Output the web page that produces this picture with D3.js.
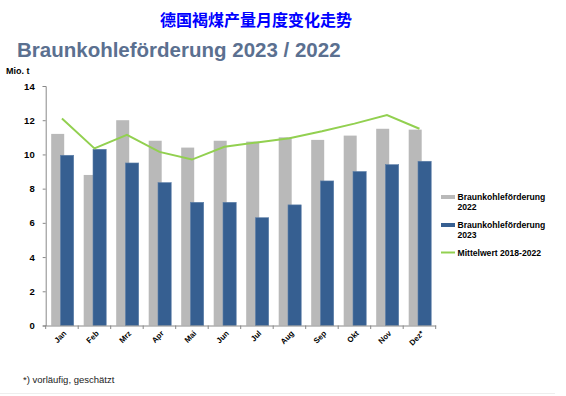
<!DOCTYPE html>
<html>
<head>
<meta charset="utf-8">
<script src="https://cdn.jsdelivr.net/npm/d3@7"></script>
<style>
  body { margin: 0; background: #fff; }
  svg { display: block; font-family: "Liberation Sans", Arial, sans-serif; }
</style>
</head>
<body>
<svg id="chart" width="566" height="396"></svg>
<script>
// data
const months = ['Jan', 'Feb', 'Mrz', 'Apr', 'Mai', 'Jun', 'Jul', 'Aug', 'Sep', 'Okt', 'Nov', 'Dez*']
const values2022 = [11.2, 8.8, 12.0, 10.8, 10.4, 10.8, 10.75, 11.0, 10.85, 11.1, 11.5, 11.45]
const values2023 = [9.95, 10.3, 9.5, 8.35, 7.2, 7.2, 6.3, 7.05, 8.45, 9.0, 9.4, 9.6]
const average = [12.1, 10.35, 11.15, 10.15, 9.7, 10.45, 10.7, 10.95, 11.35, 11.8, 12.3, 11.5]
const yTicks = [0, 2, 4, 6, 8, 10, 12, 14]

const svg = d3.select('#chart')

svg.append('text')
    .attr('x', 256).attr('y', 26)
    .attr('text-anchor', 'middle')
    .attr('font-family', '"Noto Sans CJK SC", sans-serif')
    .attr('font-weight', 'bold')
    .attr('font-size', 16)
    .attr('fill', '#0000ff')
    .text('德国褐煤产量月度变化走势')

svg.append('text')
    .attr('x', 17).attr('y', 57)
    .attr('font-weight', 'bold')
    .attr('font-size', 20.5)
    .attr('fill', '#5b7090')
    .text('Braunkohleförderung 2023 / 2022')

svg.append('text')
    .attr('x', 6).attr('y', 74)
    .attr('font-weight', 'bold')
    .attr('font-size', 9)
    .text('Mio. t')

const x = d3.scaleBand().domain(months).range([45.7, 435.7])
const y = d3.scaleLinear().domain([0, 14]).range([325.5, 86])

// y axis
const yAxis = svg.append('g')
    .attr('transform', 'translate(45.7,0)')
    .call(d3.axisLeft(y).tickValues(yTicks).tickSize(3).tickPadding(8))
yAxis.select('.domain').attr('stroke', '#888')
yAxis.selectAll('.tick line').attr('stroke', '#888')
yAxis.selectAll('text')
    .attr('font-family', '"Liberation Sans", Arial, sans-serif')
    .attr('font-size', 9.5).attr('font-weight', 'bold').attr('fill', '#000')

// bars
svg.append('g').selectAll('rect')
    .data(values2022)
    .join('rect')
    .attr('x', (d, i) => x(months[i]) + 5.5)
    .attr('width', 13)
    .attr('y', d => y(d))
    .attr('height', d => y(0) - y(d))
    .attr('fill', '#b9b9b9')

svg.append('g').selectAll('rect')
    .data(values2023)
    .join('rect')
    .attr('x', (d, i) => x(months[i]) + 14.8)
    .attr('width', 13.2)
    .attr('y', d => y(d))
    .attr('height', d => y(0) - y(d))
    .attr('fill', '#365f91')
    .attr('stroke', '#5d7fa8')
    .attr('stroke-width', 0.6)

// x axis
const xAxis = svg.append('g')
    .attr('transform', 'translate(0,325.5)')
    .call(d3.axisBottom(x).tickSize(0).tickFormat(''))
xAxis.select('.domain').attr('stroke', '#888')
svg.append('g').selectAll('line')
    .data(months.concat(['end']))
    .join('line')
    .attr('x1', (d, i) => 45.7 + i * x.step())
    .attr('x2', (d, i) => 45.7 + i * x.step())
    .attr('y1', 325.5).attr('y2', 329)
    .attr('stroke', '#888')

svg.append('g').selectAll('text')
    .data(months)
    .join('text')
    .attr('transform', d => `translate(${x(d) + x.bandwidth() / 2 + 3},332) rotate(-45)`)
    .attr('text-anchor', 'end')
    .attr('dy', '0.35em')
    .attr('font-size', 7.8)
    .attr('font-weight', 'bold')
    .text(d => d)

// average line
const line = d3.line()
    .x((d, i) => x(months[i]) + x.bandwidth() / 2)
    .y(d => y(d))
svg.append('path')
    .datum(average)
    .attr('d', line)
    .attr('fill', 'none')
    .attr('stroke', '#92d050')
    .attr('stroke-width', 2)

// legend
const legend = [
    { label: ['Braunkohleförderung', '2022'], color: '#b9b9b9', type: 'bar', y: 197 },
    { label: ['Braunkohleförderung', '2023'], color: '#365f91', type: 'bar', y: 225 },
    { label: ['Mittelwert 2018-2022'], color: '#92d050', type: 'line', y: 252.5 }
]
const lg = svg.append('g').selectAll('g').data(legend).join('g')
lg.append('line')
    .attr('x1', 441).attr('x2', 455)
    .attr('y1', d => d.y).attr('y2', d => d.y)
    .attr('stroke', d => d.color)
    .attr('stroke-width', d => d.type === 'bar' ? 4 : 2)
lg.append('text')
    .attr('x', 457.5)
    .attr('y', d => d.y + 3)
    .attr('font-size', 8.6)
    .attr('font-weight', 'bold')
    .selectAll('tspan')
    .data(d => d.label)
    .join('tspan')
    .attr('x', 457.5)
    .attr('dy', (d, i) => i === 0 ? 0 : 9.5)
    .text(d => d)

svg.append('text')
    .attr('x', 23).attr('y', 383)
    .attr('font-size', 9.5)
    .attr('fill', '#222')
    .text('*) vorläufig, geschätzt')

svg.append('line')
    .attr('x1', 0).attr('x2', 555)
    .attr('y1', 393.5).attr('y2', 393.5)
    .attr('stroke', '#eeeeee')
</script>
</body>
</html>
